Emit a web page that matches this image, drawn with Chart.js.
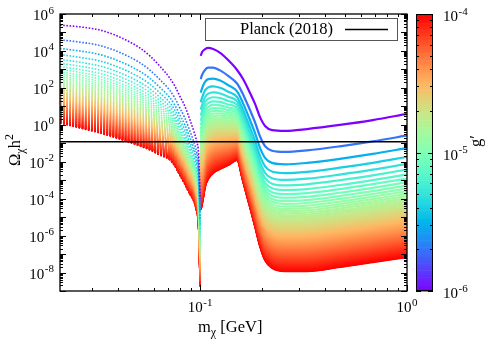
<!DOCTYPE html>
<html><head><meta charset="utf-8">
<script src="https://cdn.jsdelivr.net/npm/chart.js@4"></script>
<style>html,body{margin:0;padding:0;background:#fff}canvas{display:block}</style>
</head><body>
<canvas id="c" width="500" height="350"></canvas>
<script>
// ---- data ----
// coupling values of the plotted curves, in units of 1e-6
const gPrimeMicro = [1,2,3,4,5,6,7,8,9,10,11,12,13,14,15,16,17,18,19,20,
  21,22,23,24,25,26,27,28,29,30,31,32,33,34,35,36,37,38,39,40,
  41,42,43,44,45,46,47,48,49,50,51,52,53,54,55,56,57,58,59,60,
  61,62,63,64,65,66,67,68,69,70,71,72,73,74,75,76,77,78,79,80,
  81,82,83,84,85,86,87,88,89,90,91,92,93,94,95,96,97,98,99,100];
// below the resonance (m < 0.1 GeV), dotted branch
const massLeft        = [0.021,0.0262,0.0328,0.0409,0.0511,0.0571,0.0638,0.0713,0.0754,0.0797,0.0842,0.089,0.093,0.0962,0.0983,0.1];
const omegaLeftTop    = [2.5e5,2.0e5,1.35e5,5.6e4,1.45e4,5.4e3,1.5e3,340,126,36,10.5,2.0,0.47,0.12,0.023,1e-4];   // g' = 1e-6
const omegaLeftBottom = [1.26,0.68,0.36,0.17,0.071,0.044,0.023,0.0126,5.9e-3,1.9e-3,6.3e-4,1.8e-4,7.6e-5,1.9e-5,2.5e-6,1.7e-9]; // g' = 1e-4
// above the resonance, solid branch
const massRight        = [0.1006,0.1022,0.1057,0.1093,0.1155,0.1249,0.1365,0.1508,0.1612,0.1743,0.1842,0.1947,0.2059,0.2225,0.257,0.3282,0.4736,0.6832,1.0];
const omegaRightTop    = [5.4e3,8.7e3,1.26e4,1.45e4,1.26e4,7.8e3,3.2e3,930,300,52,13.5,2.6,0.87,0.52,0.47,0.59,0.98,1.8,3.9];
const omegaRightBottom = [2.5e-5,5.9e-5,4.9e-4,1.2e-3,2.5e-3,4.1e-3,6.6e-3,1.26e-2,9.1e-4,3.5e-5,3.3e-6,2.8e-7,4.8e-8,1.8e-8,1.2e-8,1.2e-8,2.0e-8,3.7e-8,6.9e-8];
const planckOmega = 0.12;
const planckLabel = 'Planck (2018)';
const xRange = [0.021, 1];
const yRange = [1e-9, 1e6];
const cbRange = [1e-6, 1e-4];
const xLabelExps = [-1, 0];
const yLabelExps = [6, 4, 2, 0, -2, -4, -6, -8];
const cbLabelExps = [-4, -5, -6];

// ---- styling helpers ----
const SERIF = '"Liberation Serif","DejaVu Serif",serif';
function rainbow(t){
  t = Math.max(0, Math.min(1, t));
  const r = Math.min(1, Math.abs(2*t - 0.5)), g = Math.sin(Math.PI*t), b = Math.cos(Math.PI*t/2);
  return 'rgb(' + Math.round(r*255) + ',' + Math.round(g*255) + ',' + Math.round(b*255) + ')';
}
function frac(g){ return (Math.log10(g) - Math.log10(cbRange[0])) / (Math.log10(cbRange[1]) - Math.log10(cbRange[0])); }
function mixer(t){ return function(a, b){ return Math.pow(10, Math.log10(a)*(1-t) + Math.log10(b)*t); }; }

const datasets = [];
gPrimeMicro.forEach(function(k){
  const t = frac(k * 1e-6), mix = mixer(t), col = rainbow(t);
  datasets.push({
    data: massLeft.map(function(m, j){ return {x: m, y: mix(omegaLeftTop[j], omegaLeftBottom[j])}; }),
    borderColor: col, borderWidth: 1.6, borderDash: [1.6, 1.6], pointRadius: 0,
    cubicInterpolationMode: 'monotone', order: k + 1
  });
  datasets.push({
    data: massRight.map(function(m, j){ return {x: m, y: mix(omegaRightTop[j], omegaRightBottom[j])}; }),
    borderColor: col, borderWidth: 2.2, pointRadius: 0,
    cubicInterpolationMode: 'monotone', order: k + 1
  });
});
datasets.push({
  data: [{x: xRange[0], y: planckOmega}, {x: xRange[1], y: planckOmega}],
  borderColor: '#000', borderWidth: 1.5, pointRadius: 0, order: 0
});

function drawPow(ctx, exp, x, y, align, big, small, raise){
  const base = '10', e = String(exp);
  ctx.font = big + 'px ' + SERIF; const w1 = ctx.measureText(base).width;
  ctx.font = small + 'px ' + SERIF; const w2 = ctx.measureText(e).width;
  const tot = w1 + w2 + 0.5;
  let x0 = x;
  if (align === 'right') x0 = x - tot; else if (align === 'center') x0 = x - tot/2;
  ctx.textAlign = 'left'; ctx.textBaseline = 'alphabetic';
  ctx.font = big + 'px ' + SERIF; ctx.fillText(base, x0, y);
  ctx.font = small + 'px ' + SERIF; ctx.fillText(e, x0 + w1 + 0.5, y - raise);
}

const deco = {
  id: 'deco',
  afterDraw(chart){
    const ctx = chart.ctx, a = chart.chartArea;
    const xs = chart.scales.x, ys = chart.scales.y, cb = chart.scales.cb;
    ctx.save();
    ctx.fillStyle = '#000'; ctx.strokeStyle = '#000';
    ctx.lineWidth = 1.3;
    ctx.strokeRect(a.left, a.top, a.right - a.left, a.bottom - a.top);
    ctx.lineWidth = 1;
    ctx.beginPath();
    for (let d = -2; d <= 0; d++) for (let k = 1; k <= 9; k++) {
      const v = k * Math.pow(10, d);
      if (v < xRange[0] * 0.999 || v > xRange[1] * 1.001) continue;
      const px = Math.round(xs.getPixelForValue(v)) + 0.5, len = k === 1 ? 6 : 3;
      ctx.moveTo(px, a.bottom); ctx.lineTo(px, a.bottom - len);
      ctx.moveTo(px, a.top); ctx.lineTo(px, a.top + len);
    }
    for (let d = -9; d <= 6; d++) for (let k = 1; k <= 9; k++) {
      const v = k * Math.pow(10, d);
      if (v < yRange[0] * 0.999 || v > yRange[1] * 1.001) continue;
      const py = Math.round(ys.getPixelForValue(v)) + 0.5, len = k === 1 ? 6 : 3;
      ctx.moveTo(a.left, py); ctx.lineTo(a.left + len, py);
      ctx.moveTo(a.right, py); ctx.lineTo(a.right - len, py);
    }
    ctx.stroke();
    yLabelExps.forEach(function(e){ drawPow(ctx, e, a.left - 6, ys.getPixelForValue(Math.pow(10, e)) + 6, 'right', 15, 11, 6.5); });
    xLabelExps.forEach(function(e){ drawPow(ctx, e, xs.getPixelForValue(Math.pow(10, e)), a.bottom + 21, 'center', 15, 11, 6.5); });
    ctx.textBaseline = 'alphabetic'; ctx.textAlign = 'left';
    ctx.font = '16.5px ' + SERIF; let x0 = 198;
    ctx.fillText('m', x0, 332); x0 += ctx.measureText('m').width;
    ctx.font = '12px ' + SERIF; ctx.fillText('\u03c7', x0, 336); x0 += ctx.measureText('\u03c7').width;
    ctx.font = '16.5px ' + SERIF; ctx.fillText(' [GeV]', x0, 332);
    ctx.save();
    ctx.translate(20, 150); ctx.rotate(-Math.PI/2);
    ctx.font = '16.5px ' + SERIF; const wO = ctx.measureText('\u03a9').width, wh = ctx.measureText('h').width;
    ctx.font = '12px ' + SERIF; const wc = ctx.measureText('\u03c7').width, w2 = ctx.measureText('2').width;
    let s = -(wO + wc + wh + w2)/2;
    ctx.font = '16.5px ' + SERIF; ctx.fillText('\u03a9', s, 0); s += wO;
    ctx.font = '12px ' + SERIF; ctx.fillText('\u03c7', s, 4); s += wc;
    ctx.font = '16.5px ' + SERIF; ctx.fillText('h', s, 0); s += wh;
    ctx.font = '12px ' + SERIF; ctx.fillText('2', s, -7);
    ctx.restore();
    ctx.fillStyle = '#fff'; ctx.fillRect(205, 18, 193, 22);
    ctx.strokeStyle = '#555'; ctx.lineWidth = 1; ctx.strokeRect(205.5, 18.5, 192, 22);
    ctx.fillStyle = '#000'; ctx.font = '16.5px ' + SERIF; ctx.fillText(planckLabel, 240, 34);
    ctx.strokeStyle = '#000'; ctx.lineWidth = 1.5;
    ctx.beginPath(); ctx.moveTo(345, 29.5); ctx.lineTo(388, 29.5); ctx.stroke();
    const cx0 = a.right + 9, cx1 = a.right + 26;
    const N = 120;
    for (let i = 0; i < N; i++) {
      const l0 = Math.log10(cbRange[0]) + (Math.log10(cbRange[1]) - Math.log10(cbRange[0])) * i / N;
      const l1 = Math.log10(cbRange[0]) + (Math.log10(cbRange[1]) - Math.log10(cbRange[0])) * (i + 1) / N;
      const p0 = cb.getPixelForValue(Math.pow(10, l0)), p1 = cb.getPixelForValue(Math.pow(10, l1));
      ctx.fillStyle = rainbow((i + 0.5) / N);
      ctx.fillRect(cx0, p1, cx1 - cx0, p0 - p1 + 0.6);
    }
    ctx.strokeStyle = '#000'; ctx.lineWidth = 1;
    ctx.strokeRect(cx0 + 0.5, cb.top + 0.5, cx1 - cx0 - 1, cb.bottom - cb.top - 1);
    ctx.beginPath();
    for (let d = -6; d <= -4; d++) for (let k = 1; k <= 9; k++) {
      const v = k * Math.pow(10, d);
      if (v < cbRange[0] * 0.999 || v > cbRange[1] * 1.001) continue;
      const py = Math.round(cb.getPixelForValue(v)) + 0.5, len = k === 1 ? 5 : 3;
      ctx.moveTo(cx0, py); ctx.lineTo(cx0 + len, py);
      ctx.moveTo(cx1, py); ctx.lineTo(cx1 - len, py);
    }
    ctx.stroke();
    ctx.fillStyle = '#000';
    cbLabelExps.forEach(function(e){ drawPow(ctx, e, cx0 + 27, cb.getPixelForValue(Math.pow(10, e)) + 7, 'left', 15, 11, 6.5); });
    ctx.save();
    ctx.translate(481, 141); ctx.rotate(-Math.PI/2);
    ctx.font = '16.5px ' + SERIF; ctx.textAlign = 'center'; ctx.fillText('g\u2032', 0, 0);
    ctx.restore();
    ctx.restore();
  }
};

new Chart(document.getElementById('c'), {
  type: 'line',
  data: { datasets: datasets },
  options: {
    responsive: false, animation: false, devicePixelRatio: 1,
    layout: { padding: { top: 14, left: 0, right: 0, bottom: 0 } },
    plugins: { legend: { display: false }, tooltip: { enabled: false } },
    scales: {
      x: { type: 'logarithmic', position: 'bottom', min: xRange[0], max: xRange[1],
           ticks: { display: false }, grid: { display: false }, border: { display: false },
           afterFit: function(s){ s.height = 59; } },
      y: { type: 'logarithmic', position: 'left', min: yRange[0], max: yRange[1],
           ticks: { display: false }, grid: { display: false }, border: { display: false },
           afterFit: function(s){ s.width = 60; } },
      cb: { axis: 'y', type: 'logarithmic', position: 'right', min: cbRange[0], max: cbRange[1],
           ticks: { display: false }, grid: { display: false }, border: { display: false },
           afterFit: function(s){ s.width = 93; } }
    }
  },
  plugins: [deco]
});
</script>
</body></html>
